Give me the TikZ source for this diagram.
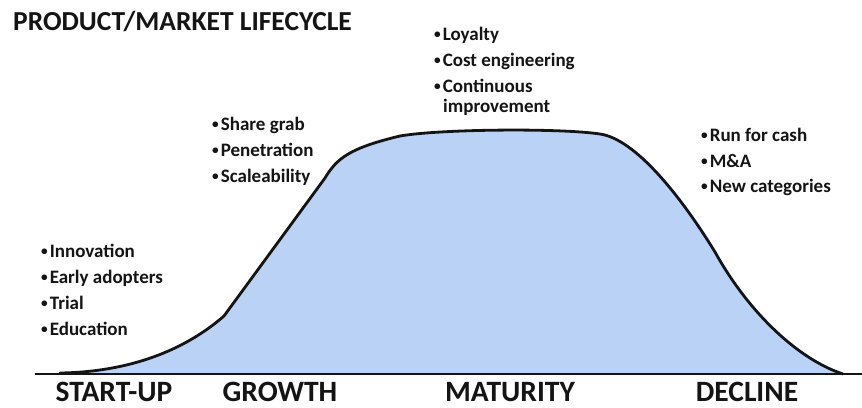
\documentclass[tikz,border=0pt]{standalone}
\usepackage{fontspec}
\setmainfont{Carlito}
\definecolor{areablue}{RGB}{185,210,246}
\definecolor{inkline}{RGB}{20,20,20}
\newcommand{\bul}{\raisebox{0.15ex}{\scalebox{0.7}{•}}\kern2pt}
\begin{document}
\begin{tikzpicture}[x=1pt,y=-1pt,
  titletext/.style={anchor=base west,inner sep=0pt,font=\fontsize{27.5}{30}\selectfont\bfseries,text=inkline},
  phasetext/.style={anchor=base,inner sep=0pt,text depth=0pt,font=\fontsize{29.5}{32}\selectfont\bfseries,text=inkline},
  itemtext/.style={anchor=base west,inner sep=0pt,font=\fontsize{19}{22}\selectfont\bfseries,text=inkline},
  curveline/.style={line width=2.8pt,draw=inkline,line join=round,line cap=round},
  baseline/.style={line width=2pt,draw=inkline}
]
\useasboundingbox (0,0) rectangle (862,407);
\fill[white] (0,0) rectangle (862,407);

% area under curve
\fill[areablue] (60,373) .. controls (130,372) and (185,350) .. (224,316)
  -- (325,178) .. controls (337,158) and (350,148) .. (400,136)
  .. controls (440,129) and (560,128) .. (600,134)
  .. controls (635,139) and (680,195) .. (715,252)
  .. controls (750,315) and (800,360) .. (843,374) -- cycle;

% curve
\draw[curveline] (60,373) .. controls (130,372) and (185,350) .. (224,316)
  -- (325,178) .. controls (337,158) and (350,148) .. (400,136)
  .. controls (440,129) and (560,128) .. (600,134)
  .. controls (635,139) and (680,195) .. (715,252)
  .. controls (750,315) and (800,360) .. (843,374);

% baseline
\coordinate (bl) at (35,373.5);
\coordinate (br) at (862,373.5);
\draw[baseline] (bl) -- (br);

% title
\node[titletext] (title) at (13,30) {PRODUCT/MARKET LIFECYCLE};

% phase labels
\node[phasetext] (p1) at (114,401) {START-UP};
\node[phasetext] (p2) at (280,401) {GROWTH};
\node[phasetext] (p3) at (510,401) {MATURITY};
\node[phasetext] (p4) at (747,401) {DECLINE};

% start-up items
\node[itemtext] (s1) at (41,257) {\bul Innovation};
\node[itemtext] (s2) at (41,283) {\bul Early adopters};
\node[itemtext] (s3) at (41,309) {\bul Trial};
\node[itemtext] (s4) at (41,335) {\bul Education};

% growth items
\node[itemtext] (g1) at (212,130) {\bul Share grab};
\node[itemtext] (g2) at (212,156) {\bul Penetration};
\node[itemtext] (g3) at (212,182) {\bul Scaleability};

% maturity items
\node[itemtext] (m1) at (434,40) {\bul Loyalty};
\node[itemtext] (m2) at (434,66) {\bul Cost engineering};
\node[itemtext] (m3) at (434,92) {\bul Continuous};
\node[itemtext] (m4) at (443,112) {improvement};

% decline items
\node[itemtext] (d1) at (701,141) {\bul Run for cash};
\node[itemtext] (d2) at (701,167) {\bul M\&A};
\node[itemtext] (d3) at (701,192) {\bul New categories};
\end{tikzpicture}
\end{document}
